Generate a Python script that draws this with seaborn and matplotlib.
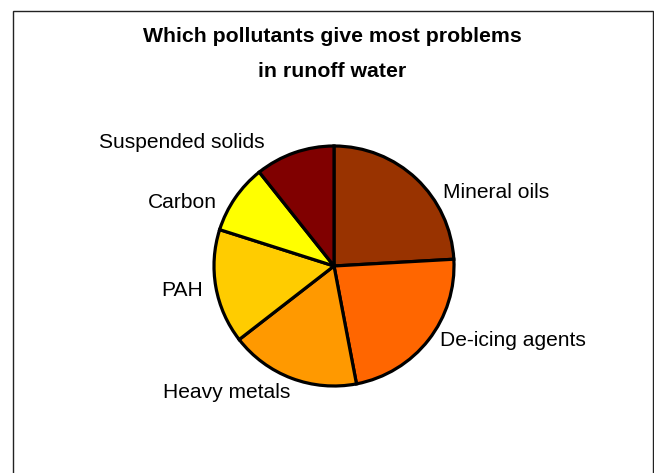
import matplotlib
matplotlib.use("Agg")
import matplotlib.pyplot as plt
import seaborn as sns
from matplotlib.patches import Rectangle

# ---- data ----
categories = ["Mineral oils", "De-icing agents", "Heavy metals", "PAH", "Carbon", "Suspended solids"]
shares = [24.1, 22.9, 17.5, 15.4, 9.4, 10.7]
colors = ["#993300", "#FF6600", "#FF9900", "#FFCC00", "#FFFF00", "#800000"]
title_lines = ["Which pollutants give most problems", "in runoff water"]

# ---- layout (pixel coordinates of the 654x473 canvas, y from top) ----
W, H = 654, 473
center_px = (334, 266)
radius_px = 120
label_pos = {
    "Mineral oils": (443, 192, "left"),
    "De-icing agents": (440, 341, "left"),
    "Heavy metals": (163, 392, "left"),
    "PAH": (203, 290, "right"),
    "Carbon": (217, 202, "right"),
    "Suspended solids": (265, 143, "right"),
}

sns.set_theme(style="white")
plt.rcParams['font.family'] = ['Liberation Sans', 'DejaVu Sans']

fig = plt.figure(figsize=(W / 100, H / 100), dpi=100)
ax = fig.add_axes([0, 0, 1, 1])

ax.pie(shares, colors=colors, startangle=90, counterclock=False,
       center=(center_px[0], H - center_px[1]), radius=radius_px,
       wedgeprops=dict(edgecolor="black", linewidth=2.3))
ax.set_xlim(0, W)
ax.set_ylim(0, H)
ax.set_aspect("auto")
ax.axis("off")

for name in categories:
    x, y, ha = label_pos[name]
    ax.text(x, H - y, name, ha=ha, va="center", fontsize=15.1, color="black")

ax.text(332, H - 37, title_lines[0], ha="center", va="center", fontsize=15.3,
        fontweight="bold", color="black")
ax.text(332, H - 72, title_lines[1], ha="center", va="center", fontsize=15.3,
        fontweight="bold", color="black")

# chart frame
ax.add_patch(Rectangle((13, -20), 640, H - 11 + 20, fill=False,
                       edgecolor="#222222", linewidth=1.0, clip_on=False))

fig.savefig("out.png", dpi=100)
